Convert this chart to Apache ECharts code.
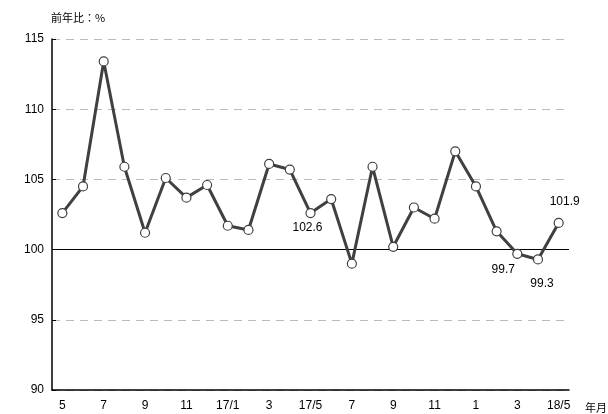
<!DOCTYPE html>
<html>
<head>
<meta charset="utf-8">
<script src="https://cdn.jsdelivr.net/npm/echarts@6/dist/echarts.min.js"></script>
<style>html,body{margin:0;padding:0;background:#fff;}#c{width:608px;height:414px;}</style>
</head>
<body>
<div id="c"></div>
<script>
var categories = ['5','6','7','8','9','10','11','12','17/1','2','3','4','17/5','6','7','8','9','10','11','12','1','2','3','4','18/5'];
var values = [102.6,104.5,113.4,105.9,101.2,105.1,103.7,104.6,101.7,101.4,106.1,105.7,102.6,103.6,99.0,105.9,100.2,103.0,102.2,107.0,104.5,101.3,99.7,99.3,101.9];
var yTicks = [90,95,100,105,110,115];
var labelled = {12:{position:'bottom',distance:3,offset:[-3,0]},22:{position:'bottom',distance:5,offset:[-14,0]},23:{position:'bottom',distance:13,offset:[4,0]},24:{position:'top',distance:10,offset:[6,0]}};

var font = 'Liberation Sans, Arial, "Noto Sans CJK JP", sans-serif';
var data = values.map(function(v,i){
  var d = {value:v};
  if (labelled[i]) {
    d.label = Object.assign({show:true, formatter:function(p){return p.value.toFixed(1);}, color:'#000', fontSize:12, fontFamily:font}, labelled[i]);
  }
  return d;
});

var chart = echarts.init(document.getElementById('c'));
chart.setOption({
  animation:false,
  backgroundColor:'#fff',
  grid:{left:52,right:39,top:39,bottom:24},
  xAxis:{
    type:'category', data:categories, boundaryGap:true,
    axisLine:{lineStyle:{color:'#000',width:1.5}},
    axisTick:{inside:true,length:4,interval:0,lineStyle:{color:'#000'}},
    axisLabel:{interval:1,color:'#000',fontSize:12,fontFamily:font,margin:10}
  },
  yAxis:{
    type:'value', min:yTicks[0], max:yTicks[yTicks.length-1], interval:5,
    axisLine:{show:true,lineStyle:{color:'#000',width:1.5}},
    axisTick:{show:true,inside:true,length:4,lineStyle:{color:'#000'}},
    axisLabel:{color:'#000',fontSize:12,fontFamily:font,margin:8},
    splitLine:{show:true,lineStyle:{color:'#bbb',type:[8,6],width:1}}
  },
  series:[{
    type:'line', data:data,
    symbol:'circle', symbolSize:9,
    lineStyle:{color:'#404040',width:3},
    itemStyle:{color:'#fff',borderColor:'#404040',borderWidth:1.2},
    z:3,
    markLine:{
      silent:true, symbol:'none', label:{show:false},
      lineStyle:{color:'#000',type:'solid',width:1.2},
      data:[{yAxis:100}],
      z:2
    }
  }],
  graphic:[
    {type:'text',left:51,top:12,style:{text:'前年比：%',fontSize:11,fontFamily:'"Noto Sans CJK JP", sans-serif',fill:'#000'}},
    {type:'text',left:585,top:402,style:{text:'年月',fontSize:11,fontFamily:'"Noto Sans CJK JP", sans-serif',fill:'#000'}}
  ]
});
</script>
</body>
</html>
